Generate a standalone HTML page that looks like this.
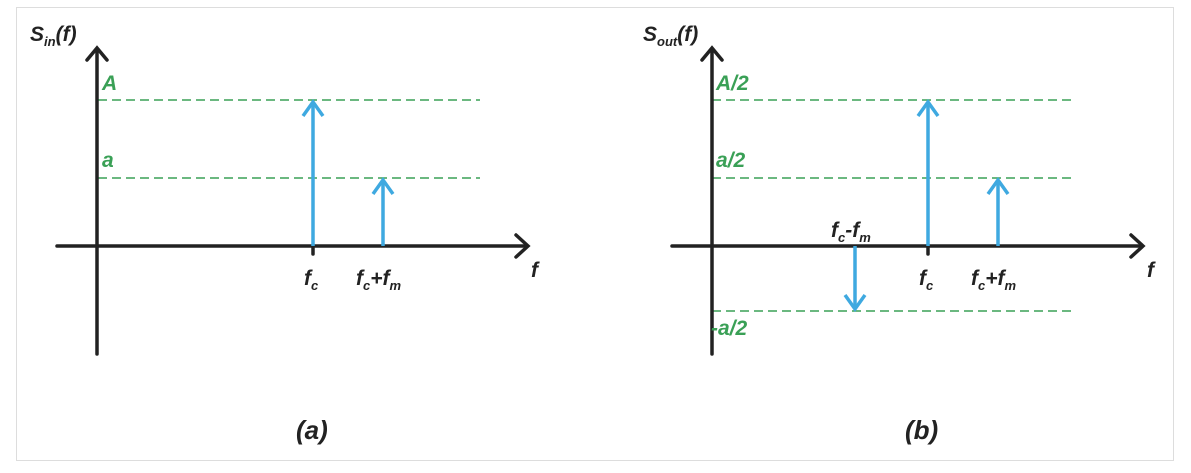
<!DOCTYPE html>
<html><head><style>
body{margin:0;background:#fff;}
svg text{font-family:"Liberation Sans",sans-serif;font-weight:bold;font-style:italic;}
</style></head><body>
<svg width="1191" height="468" viewBox="0 0 1191 468" xmlns="http://www.w3.org/2000/svg">
<rect x="16.5" y="7.5" width="1157" height="453" fill="#fff" stroke="#ddd"/>
<g stroke="#3aa056" stroke-width="1.6" stroke-dasharray="9,5" fill="none">
<line x1="98" y1="100" x2="480" y2="100"/>
<line x1="98" y1="178" x2="480" y2="178"/>
<line x1="712" y1="100" x2="1076" y2="100"/>
<line x1="712" y1="178" x2="1076" y2="178"/>
<line x1="712" y1="311" x2="1076" y2="311"/>
</g>
<g stroke="#222" stroke-width="3.5" fill="none" stroke-linecap="round">
<line x1="97" y1="50" x2="97" y2="354"/>
<polyline points="87,60 97,48 107,60"/>
<line x1="57" y1="246" x2="527" y2="246"/>
<polyline points="516,235 528,246 516,257"/>
<line x1="313" y1="246" x2="313" y2="254"/>
<line x1="712" y1="50" x2="712" y2="354"/>
<polyline points="702,60 712,48 722,60"/>
<line x1="672" y1="246" x2="1142" y2="246"/>
<polyline points="1131,235 1143,246 1131,257"/>
<line x1="928" y1="246" x2="928" y2="254"/>
</g>
<g stroke="#3fa9e0" stroke-width="3.5" fill="none">
<line x1="313" y1="246" x2="313" y2="102"/>
<polyline points="303,116 313,102 323,116"/>
<line x1="383" y1="246" x2="383" y2="180"/>
<polyline points="373,194 383,180 393,194"/>
<line x1="928" y1="246" x2="928" y2="102"/>
<polyline points="918,116 928,102 938,116"/>
<line x1="998" y1="246" x2="998" y2="180"/>
<polyline points="988,194 998,180 1008,194"/>
<line x1="855" y1="246" x2="855" y2="309"/>
<polyline points="845,295 855,309 865,295"/>
</g>
<g fill="#222" font-size="21">
<text x="30" y="41">S<tspan font-size="13" dy="5">in</tspan><tspan dy="-5">(f)</tspan></text>
<text x="643" y="41">S<tspan font-size="13" dy="5">out</tspan><tspan dy="-5">(f)</tspan></text>
<text x="531" y="277">f</text>
<text x="1147" y="277">f</text>
<text x="304" y="285">f<tspan font-size="13" dy="5">c</tspan></text>
<text x="356" y="285">f<tspan font-size="13" dy="5">c</tspan><tspan dy="-5">+f</tspan><tspan font-size="13" dy="5">m</tspan></text>
<text x="919" y="285">f<tspan font-size="13" dy="5">c</tspan></text>
<text x="971" y="285">f<tspan font-size="13" dy="5">c</tspan><tspan dy="-5">+f</tspan><tspan font-size="13" dy="5">m</tspan></text>
<text x="831" y="237">f<tspan font-size="13" dy="5">c</tspan><tspan dy="-5">-f</tspan><tspan font-size="13" dy="5">m</tspan></text>
<text x="296" y="439" font-size="26">(a)</text>
<text x="905" y="439" font-size="26">(b)</text>
</g>
<g fill="#3aa056" font-size="21">
<text x="102" y="90">A</text>
<text x="102" y="167">a</text>
<text x="716" y="90">A/2</text>
<text x="716" y="167">a/2</text>
<text x="711" y="335">-a/2</text>
</g>
</svg>
</body></html>
